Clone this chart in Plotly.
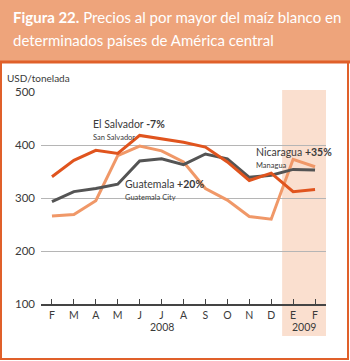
import plotly.graph_objects as go

months = ["F", "M", "A", "M", "J", "J", "A", "S", "O", "N", "D", "E", "F"]
el_salvador = [340, 371, 390, 384, 418, 411, 405, 396, 368, 333, 347, 312, 316]
guatemala = [293, 312, 318, 326, 370, 374, 363, 383, 374, 339, 343, 354, 353]
nicaragua = [266, 269, 295, 380, 398, 389, 368, 318, 296, 265, 260, 373, 359]
y_ticks = [100, 200, 300, 400, 500]

W, H = 350, 361
L, R, T, B = 41, 326, 92, 304

def px(x):
    return (x - L) / (R - L)

def py(y):
    return (B - y) / (B - T)

xs = list(range(len(months)))

fig = go.Figure()
fig.add_trace(go.Scatter(x=xs, y=nicaragua, mode="lines",
                         line=dict(color="#F09868", width=3), hoverinfo="skip"))
fig.add_trace(go.Scatter(x=xs, y=guatemala, mode="lines",
                         line=dict(color="#545454", width=3), hoverinfo="skip"))
fig.add_trace(go.Scatter(x=xs, y=el_salvador, mode="lines",
                         line=dict(color="#E0541E", width=3), hoverinfo="skip"))

shapes = [
    # highlighted 2009 region
    dict(type="rect", xref="x", yref="paper", x0=10.5, x1=12.6, y0=py(336), y1=py(90),
         fillcolor="#FADFCF", line=dict(width=0), layer="below"),
    # title box
    dict(type="rect", xref="paper", yref="paper", x0=px(0), x1=px(350), y0=py(61), y1=py(0),
         fillcolor="#EEA47B", line=dict(width=0), layer="below"),
    # frame
    dict(type="rect", xref="paper", yref="paper", x0=px(1), x1=px(348), y0=py(359), y1=py(62),
         fillcolor="rgba(0,0,0,0)", line=dict(color="#E0602A", width=2), layer="above"),
    dict(type="line", xref="paper", yref="paper", x0=px(0), x1=px(350), y0=py(62), y1=py(62),
         line=dict(color="#E0602A", width=3), layer="above"),
]

FONT = "Lato"
TXT = "#3a3a3a"
BIG, SMALL = 10.5, 7.5

def label(x_px, split_px, main, sub):
    return [
        dict(xref="paper", yref="paper", x=px(x_px), y=py(split_px - 0.5),
             xanchor="left", yanchor="bottom", text=main, showarrow=False,
             borderpad=0, font=dict(family=FONT, size=BIG, color=TXT)),
        dict(xref="paper", yref="paper", x=px(x_px), y=py(split_px + 0.5),
             xanchor="left", yanchor="top", text=sub, showarrow=False,
             borderpad=0, font=dict(family=FONT, size=SMALL, color=TXT)),
    ]

annotations = [
    dict(xref="paper", yref="paper", x=px(11), y=py(17), xanchor="left", yanchor="middle",
         text="<b>Figura 22.</b> Precios al por mayor del maíz blanco en",
         showarrow=False, font=dict(family=FONT, size=15, color="white")),
    dict(xref="paper", yref="paper", x=px(11), y=py(40), xanchor="left", yanchor="middle",
         text="determinados países de América central",
         showarrow=False, font=dict(family=FONT, size=15, color="white")),
    dict(xref="paper", yref="paper", x=px(5), y=py(78), xanchor="left", yanchor="middle",
         text="USD/tonelada", showarrow=False, font=dict(family=FONT, size=10, color=TXT)),
    dict(xref="x", yref="paper", x=5, y=py(327), xanchor="center", yanchor="middle",
         text="2008", showarrow=False, font=dict(family=FONT, size=10.5, color=TXT)),
    dict(xref="x", yref="paper", x=11.5, y=py(327), xanchor="center", yanchor="middle",
         text="2009", showarrow=False, font=dict(family=FONT, size=10.5, color=TXT)),
]
annotations += label(92, 131, "El Salvador <b>-7%</b>", "San Salvador")
annotations += label(124, 191, "Guatemala <b>+20%</b>", "Guatemala City")
annotations += label(255, 159, "Nicaragua <b>+35%</b>", "Managua")

fig.update_layout(
    width=W, height=H,
    margin=dict(l=L, r=W - R, t=T, b=H - B, pad=0),
    paper_bgcolor="white", plot_bgcolor="rgba(0,0,0,0)",
    showlegend=False,
    shapes=shapes, annotations=annotations,
    font=dict(family=FONT, color=TXT),
)
fig.update_xaxes(range=[-0.5, 12.5], tickmode="array", tickvals=xs, ticktext=months,
                 ticks="inside", ticklen=5, tickwidth=1, tickcolor="#444",
                 showline=True, linecolor="#444", linewidth=2, showgrid=False, zeroline=False,
                 tickfont=dict(family=FONT, size=10.5, color=TXT), fixedrange=True)
fig.update_yaxes(range=[100, 500], tickmode="array", tickvals=y_ticks,
                 showgrid=True, gridcolor="#b5b5b5", gridwidth=1, zeroline=False,
                 showline=False, ticks="", ticklabelstandoff=5,
                 tickfont=dict(family=FONT, size=11.5, color=TXT), fixedrange=True)

fig.write_html("out.html", config={"displayModeBar": False},
               post_script="document.body.style.margin='0';document.body.style.overflow='hidden';")
